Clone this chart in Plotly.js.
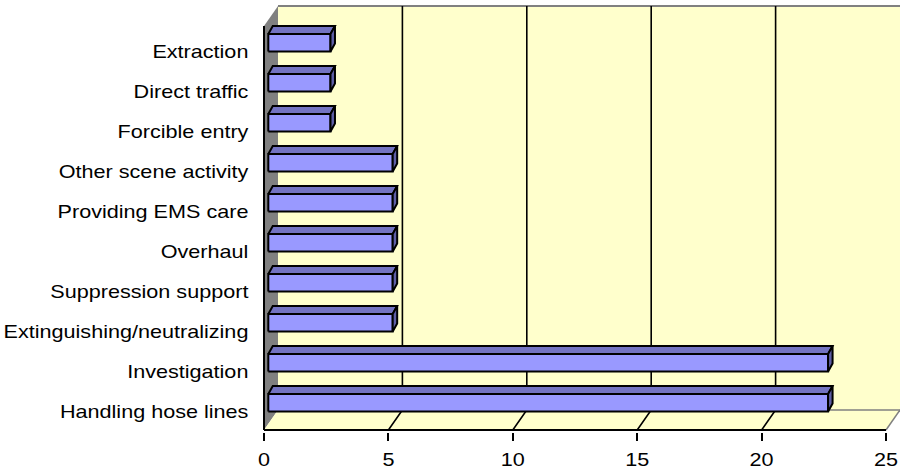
<!DOCTYPE html>
<html>
<head>
<meta charset="utf-8">
<script src="https://cdn.plot.ly/plotly-3.0.1.min.js"></script>
<style>html,body{margin:0;padding:0;background:#fff;}#chart{width:900px;height:470px;}</style>
</head>
<body>
<div id="chart"></div>
<script>
// ---- data ----
const categories = ["Handling hose lines", "Investigation", "Extinguishing/neutralizing", "Suppression support",
  "Overhaul", "Providing EMS care", "Other scene activity", "Forcible entry", "Direct traffic", "Extraction"];
const values = [22.5, 22.5, 5, 5, 5, 5, 5, 2.5, 2.5, 2.5];
const xTicks = [0, 5, 10, 15, 20, 25];

// ---- geometry / style (oblique 3D look) ----
const xMax = xTicks[xTicks.length - 1];
const DX = 0.5627;      // depth offset in x units
const DY = 0.5;         // depth offset in category units
const wallTop = categories.length - 0.5 + 0.1 + DY;
const frontTop = categories.length - 0.5 + 0.1;
const yLo = -0.5;
const OX = 0.173, FY0 = -0.04, FY1 = 0.4, BDX = 0.18, BDY = 0.2;
const TEXT_STRETCH = 1.2;

function poly(xs, ys, fill, lineColor, lineW) {
  return {type: 'scatter', mode: lineW ? 'lines' : 'none', x: xs, y: ys, fill: 'toself',
    fillcolor: fill, line: {color: lineColor || fill, width: lineW || 0}, hoverinfo: 'skip', showlegend: false};
}
function lines(xs, ys, color, w) {
  return {type: 'scatter', mode: 'lines', x: xs, y: ys, line: {color: color, width: w},
    hoverinfo: 'skip', showlegend: false};
}

const traces = [];
// back wall
traces.push(poly([DX, 30, 30, DX], [0, 0, wallTop, wallTop], '#FFFFCC'));
// left wall
traces.push(poly([0, DX, DX, 0], [yLo, 0, wallTop, frontTop], '#808080'));
// floor
traces.push(poly([0, xMax, xMax + DX, DX], [yLo, yLo, 0, 0], '#FFFFCC'));
// gray frame edges
traces.push(lines([DX, 30], [wallTop, wallTop], '#808080', 2));
traces.push(lines([DX, xMax + DX, null, xMax, xMax + DX], [0, 0, null, yLo, 0], '#808080', 1.5));
// gridlines (floor diagonal + back wall vertical)
const gx = [], gy = [];
xTicks.slice(1, -1).forEach(v => { gx.push(v, v + DX, v + DX, null); gy.push(yLo, 0, wallTop, null); });
traces.push(lines(gx, gy, '#000000', 1.6));
// axis lines
traces.push(lines([0, 0, null, 0, xMax], [frontTop, yLo, null, yLo, yLo], '#000000', 2));
// bars
const fx = [], fy = [], tx = [], ty = [], sx = [], sy = [];
values.forEach((v, i) => {
  const x0 = OX, x1 = OX + v, y0 = i + FY0, y1 = i + FY1;
  fx.push(x0, x1, x1, x0, x0, null); fy.push(y0, y0, y1, y1, y0, null);
  tx.push(x0, x1, x1 + BDX, x0 + BDX, x0, null); ty.push(y1, y1, y1 + BDY, y1 + BDY, y1, null);
  sx.push(x1, x1 + BDX, x1 + BDX, x1, x1, null); sy.push(y0, y0 + BDY, y1 + BDY, y1, y0, null);
});
traces.push(poly(fx, fy, '#9999FF', '#000000', 2));
traces.push(poly(tx, ty, '#7373C2', '#000000', 2));
traces.push(poly(sx, sy, '#5E5EA6', '#000000', 2));

const font = {family: 'Arial, "Liberation Sans", sans-serif', size: 18, color: '#000000'};
const yRange = [-0.55, wallTop + 0.05];
const layout = {
  width: 900, height: 470,
  margin: {l: 262, r: 0, t: 4, b: 38, pad: 0},
  paper_bgcolor: '#ffffff', plot_bgcolor: '#ffffff',
  showlegend: false,
  font: font,
  xaxis: {range: [-0.0804, xMax + DX], tickvals: xTicks, ticktext: xTicks.map(String),
    ticks: 'outside', ticklen: 8, tickwidth: 2, tickcolor: '#000000',
    showgrid: false, zeroline: false, showline: false, tickfont: font, fixedrange: true},
  yaxis: {range: yRange, tickvals: categories.map((c, i) => i), ticktext: categories,
    ticks: 'outside', ticklen: 9, tickcolor: 'rgba(0,0,0,0)',
    showgrid: false, zeroline: false, showline: false, tickfont: font, fixedrange: true},
  yaxis2: {range: yRange, overlaying: 'y', side: 'left',
    tickvals: categories.map((c, i) => i - 0.5).concat([categories.length - 0.5]),
    ticks: 'outside', ticklen: 10, tickwidth: 2, tickcolor: '#000000', showticklabels: false,
    showgrid: false, zeroline: false, showline: false, fixedrange: true}
};
Plotly.newPlot('chart', traces, layout, {displayModeBar: false, staticPlot: true}).then(gd => {
  // widen the tick label glyphs horizontally (and nudge down), as in the reference rendering
  const adjust = (sel, dy) => gd.querySelectorAll(sel).forEach(el => {
    const x = +el.getAttribute('x') || 0, y = +el.getAttribute('y') || 0;
    const t = el.getAttribute('transform') || '';
    el.setAttribute('transform', t + ' translate(' + x + ',' + (y + dy) + ') scale(' + TEXT_STRETCH + ',1) translate(' + (-x) + ',' + (-y) + ')');
  });
  adjust('.xtick text', 3);
  adjust('.ytick text', 2);
});
</script>
</body>
</html>
